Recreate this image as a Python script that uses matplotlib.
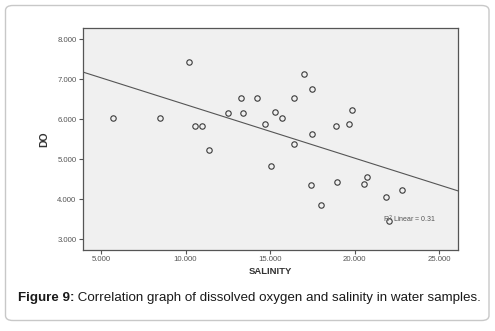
import numpy as np
import matplotlib
matplotlib.use('Agg')
import matplotlib.pyplot as plt
from matplotlib.patches import FancyBboxPatch

# values
salinity = [5.71, 8.50, 10.20, 10.57, 11.00, 11.39, 12.50, 13.29, 13.39, 14.20,
            14.70, 15.06, 15.30, 15.71, 16.38, 16.39, 16.99, 17.42, 17.50, 17.50,
            17.99, 18.91, 18.96, 19.67, 19.81, 20.53, 20.71, 21.82, 22.03, 22.80]
do_vals = [6.03, 6.03, 7.42, 5.83, 5.83, 5.23, 6.15, 6.52, 6.15, 6.54,
           5.87, 4.83, 6.19, 6.03, 6.54, 5.37, 7.14, 4.34, 6.75, 5.62,
           3.84, 5.83, 4.42, 5.87, 6.23, 4.37, 4.54, 4.04, 3.45, 4.23]
x_ticks = [5, 10, 15, 20, 25]
y_ticks = [3, 4, 5, 6, 7, 8]
r2_text = 'R$^2$ Linear = 0.31'
caption_bold = 'Figure 9:'
caption_rest = ' Correlation graph of dissolved oxygen and salinity in water samples.'

W, H = 495, 331
fig = plt.figure(figsize=(W / 100, H / 100), dpi=100)
plt.rcParams['font.family'] = ['Liberation Sans', 'DejaVu Sans']

# rounded frame round the whole figure
frame = FancyBboxPatch((5.5 / W, 1 - 320.5 / H), 483.5 / W, 315 / H,
                       boxstyle='round,pad=0,rounding_size=0.015',
                       transform=fig.transFigure, facecolor='white',
                       edgecolor='#c8c8c8', linewidth=1.0, zorder=-5)
fig.patches.append(frame)

ax = fig.add_axes([82.7 / W, 1 - 250 / H, (458.3 - 82.7) / W, (250 - 28.3) / H])
ax.set_zorder(2)
ax.set_facecolor('#f0f0f0')
for s in ax.spines.values():
    s.set_color('#555555')
    s.set_linewidth(0.9)

x = np.array(salinity)
y = np.array(do_vals)
ax.plot(x, y, 'o', markerfacecolor='none', markeredgecolor='#3a3a3a',
        markersize=3.9, markeredgewidth=0.8)

xlim = (3.92, 26.12)
slope, icpt = np.polyfit(x, y, 1)
xl = np.array(xlim)
ax.plot(xl, slope * xl + icpt, color='#555555', linewidth=0.8)

ax.set_xlim(*xlim)
ax.set_ylim(2.725, 8.275)
ax.set_xticks(x_ticks)
ax.set_xticklabels(['%.3f' % v for v in x_ticks])
ax.set_yticks(y_ticks)
ax.set_yticklabels(['%.3f' % v for v in y_ticks])
ax.tick_params(direction='out', length=3, width=0.8, color='#555555',
               labelsize=5.6, labelcolor='#555555', pad=1.5)

ax.set_xlabel('SALINITY', fontsize=6.8, fontweight='bold', color='#333333', labelpad=3)
ax.set_ylabel('DO', fontsize=7.5, fontweight='bold', color='#333333', labelpad=6)

ax.text(383 / W, 1 - 219 / H, r2_text, transform=fig.transFigure,
        fontsize=5, color='#555555', va='center', ha='left')

# caption: bold part then the rest
t1 = fig.text(18 / W, 1 - 298 / H, caption_bold, fontsize=9.6, fontweight='bold',
              color='#1a1a1a', va='center', ha='left')
fig.canvas.draw()
bb = t1.get_window_extent(fig.canvas.get_renderer())
fig.text(bb.x1 / W, 1 - 298 / H, caption_rest, fontsize=9.6,
         color='#1a1a1a', va='center', ha='left')

fig.savefig('out.png', dpi=100)
